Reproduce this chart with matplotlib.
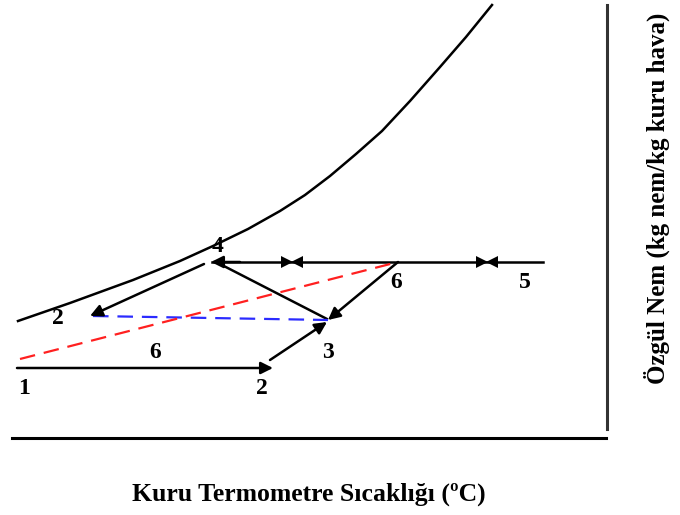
import matplotlib.pyplot as plt

# saturation curve (chart units, y grows downward like the picture)
sat_x = [18, 70, 133, 180, 213, 248, 280, 305, 330, 356, 382, 410, 440, 466, 492]
sat_y = [321, 303, 280, 261, 246, 229, 211, 195, 176, 154, 131, 101, 67, 37, 5]

# process arrows: (tail, head)
arrows = [
    ((204, 264), (90, 316)),   # 4 -> 2
    ((240, 262), (211, 262)),  # toward 4
    ((398, 262), (328, 320)),  # 6 -> 3
    ((17, 368), (273, 368)),   # 1 -> 2
    ((270, 360), (327, 322)),  # 2 -> 3
]
plain_lines = [
    ((212, 262), (543, 262)),
    ((218, 263), (327, 319)),
]
bowtie_x = [292, 487]
bowtie_y = 262

blue_dash = ((93, 316), (328, 320))
red_dash = ((20, 359), (398, 262))

labels = ["4", "2", "6", "5", "6", "3", "1", "2"]
label_x = [218, 58, 396, 525, 155, 328, 24, 262]
label_y = [246, 318, 283, 283, 352, 352, 388, 388]

plt.rcParams['font.family'] = ['Liberation Serif', 'DejaVu Serif']

fig = plt.figure(figsize=(6.8, 5.15), dpi=100)
ax = fig.add_axes([0, 0, 1, 1])
ax.set_xlim(0, 680)
ax.set_ylim(515, 0)
ax.axis("off")

# frame lines
ax.plot([12, 606], [438, 438], color="black", lw=2.2)
ax.plot([607, 607], [5, 429], color="#333333", lw=2.2)

ax.plot(sat_x, sat_y, color="black", lw=1.8)

for (a, b) in plain_lines:
    ax.plot([a[0], b[0]], [a[1], b[1]], color="black", lw=1.8)

for (t, h) in arrows:
    ax.annotate("", xy=h, xytext=t,
                arrowprops=dict(arrowstyle="-|>", color="black", lw=1.8,
                                mutation_scale=18, shrinkA=0, shrinkB=0))

for bx in bowtie_x:
    ax.plot(bx - 5, bowtie_y, marker=">", color="black", ms=9, markeredgewidth=0)
    ax.plot(bx + 5, bowtie_y, marker="<", color="black", ms=9, markeredgewidth=0)

ax.plot([blue_dash[0][0], blue_dash[1][0]], [blue_dash[0][1], blue_dash[1][1]],
        color="#2b2bff", lw=1.6, dashes=(7, 4))
ax.plot([red_dash[0][0], red_dash[1][0]], [red_dash[0][1], red_dash[1][1]],
        color="#ff2020", lw=1.6, dashes=(7, 4))

for s, x, y in zip(labels, label_x, label_y):
    ax.text(x, y, s, fontsize=17, fontweight="bold", ha="center", va="center")

ax.text(309, 494, "Kuru Termometre Sıcaklığı (ºC)", fontsize=18.5,
        fontweight="bold", ha="center", va="center")
ax.text(657, 198, "Özgül Nem (kg nem/kg kuru hava)", fontsize=18,
        fontweight="bold", ha="center", va="center", rotation=90)

fig.savefig("out.png", dpi=100)
